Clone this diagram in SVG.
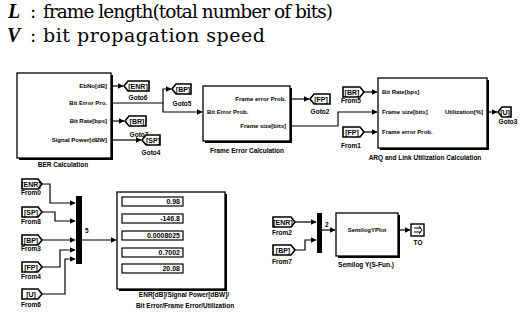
<svg xmlns="http://www.w3.org/2000/svg" width="521" height="325" viewBox="0 0 521 325">
<defs>
<marker id="ah" markerWidth="6" markerHeight="6" refX="5.5" refY="3" orient="auto" markerUnits="userSpaceOnUse">
<path d="M0,0 L6,3 L0,6 Z" fill="#000"/>
</marker>
</defs>
<style>
.top{font-family:"DejaVu Serif","Liberation Serif",serif;font-size:18.5px;fill:#000}
.lbl{font-family:"Liberation Sans",Arial,sans-serif;font-size:6px;font-weight:bold;fill:#000}
.cap{font-family:"Liberation Sans",Arial,sans-serif;font-size:6.5px;font-weight:bold;fill:#000}
.tag{font-family:"Liberation Sans",Arial,sans-serif;font-size:7px;font-weight:bold;fill:#000}
.blk{fill:#fff;stroke:#000;stroke-width:1.3}
.sh{fill:#000}
.tg{fill:#fff;stroke:#000;stroke-width:1.6}
.w{fill:none;stroke:#000;stroke-width:1.2}
.fld{fill:#fff;stroke:#000;stroke-width:1.2}
.val{font-family:"Liberation Sans",Arial,sans-serif;font-size:7px;font-weight:bold;fill:#000;text-anchor:end}
</style>
<rect width="521" height="325" fill="#fff"/>

<text class="top" x="8" y="18"><tspan font-family="Liberation Serif" font-size="20" font-style="italic" font-weight="bold">L</tspan><tspan x="30">:</tspan><tspan x="43" textLength="290" lengthAdjust="spacing">frame length(total number of bits)</tspan></text>
<text class="top" x="7" y="42"><tspan font-family="Liberation Serif" font-size="20" font-style="italic" font-weight="bold">V</tspan><tspan x="30">:</tspan><tspan x="43" font-size="19" textLength="222" lengthAdjust="spacing">bit propagation speed</tspan></text>

<g id="ber">
<rect class="sh" x="19" y="75" width="94" height="85"/>
<rect class="blk" x="17" y="73" width="94" height="85"/>
<text class="lbl" x="107" y="88" text-anchor="end">EbNo[dB]</text>
<text class="lbl" x="107" y="105" text-anchor="end">Bit Error Pro.</text>
<text class="lbl" x="107" y="123" text-anchor="end">Bit Rate[bps]</text>
<text class="lbl" x="107" y="142" text-anchor="end">Signal Power[dBW]</text>
<text class="cap" x="63" y="167" text-anchor="middle">BER Calculation</text>
</g>

<g id="goto6">
<path class="tg" d="M124,86 L128,81 L149,81 L149,91 L128,91 Z"/>
<text class="tag" x="138" y="88.5" text-anchor="middle">[ENR]</text>
<text class="cap" x="138" y="100" text-anchor="middle">Goto6</text>
</g>
<g id="goto5">
<path class="tg" d="M172,89 L176,84 L191,84 L191,94 L176,94 Z"/>
<text class="tag" x="183" y="91.5" text-anchor="middle">[BP]</text>
<text class="cap" x="182" y="106" text-anchor="middle">Goto5</text>
</g>
<g id="goto7">
<path class="tg" d="M125,121 L129,116 L146,116 L146,126 L129,126 Z"/>
<text class="tag" x="137" y="123.5" text-anchor="middle">[BR]</text>
<text class="cap" x="139" y="137" text-anchor="middle">Goto7</text>
</g>
<g id="goto4">
<path class="tg" d="M142,140 L146,135 L160,135 L160,145 L146,145 Z"/>
<text class="tag" x="153" y="142.5" text-anchor="middle">[SP]</text>
<text class="cap" x="151" y="155" text-anchor="middle">Goto4</text>
</g>

<g id="fec">
<rect class="sh" x="205" y="88" width="87" height="55"/>
<rect class="blk" x="203" y="86" width="87" height="55"/>
<text class="lbl" x="286" y="101" text-anchor="end">Frame error Prob.</text>
<text class="lbl" x="207" y="114">Bit Error Prob.</text>
<text class="lbl" x="286" y="128" text-anchor="end">Frame size[bits]</text>
<text class="cap" x="247" y="153" text-anchor="middle">Frame Error Calculation</text>
</g>
<g id="goto2">
<path class="tg" d="M310,99 L314,94 L330,94 L330,104 L314,104 Z"/>
<text class="tag" x="321" y="101.5" text-anchor="middle">[FP]</text>
<text class="cap" x="320" y="114" text-anchor="middle">Goto2</text>
</g>

<g id="arq">
<rect class="sh" x="380" y="80" width="109" height="70"/>
<rect class="blk" x="378" y="78" width="109" height="70"/>
<text class="lbl" x="382" y="94">Bit Rate[bps]</text>
<text class="lbl" x="382" y="114">Frame size[bits]</text>
<text class="lbl" x="483" y="114" text-anchor="end">Utilization[%]</text>
<text class="lbl" x="382" y="134">Frame error Prob.</text>
<text class="cap" x="425" y="160" text-anchor="middle">ARQ and Link Utilization Calculation</text>
</g>
<g id="from5">
<path class="tg" d="M343,87 L360,87 L364,92 L360,97 L343,97 Z"/>
<text class="tag" x="352" y="94.5" text-anchor="middle">[BR]</text>
<text class="cap" x="351" y="103" text-anchor="middle">From5</text>
</g>
<g id="from1">
<path class="tg" d="M343,127 L360,127 L364,132 L360,137 L343,137 Z"/>
<text class="tag" x="352" y="134.5" text-anchor="middle">[FP]</text>
<text class="cap" x="351" y="148" text-anchor="middle">From1</text>
</g>
<g id="goto3">
<path class="tg" d="M498,112 L502,107 L511,107 L511,117 L502,117 Z"/>
<text class="tag" x="505" y="114.5" text-anchor="middle">[U]</text>
<text class="cap" x="508" y="124" text-anchor="middle">Goto3</text>
</g>

<g id="from0">
<path class="tg" d="M22,179 L38,179 L42,184 L38,189 L22,189 Z"/>
<text class="tag" x="31" y="186.5" text-anchor="middle">[ENR]</text>
<text class="cap" x="31" y="195" text-anchor="middle">From0</text>
</g>
<g id="from8">
<path class="tg" d="M22,207 L38,207 L42,212 L38,217 L22,217 Z"/>
<text class="tag" x="31" y="214.5" text-anchor="middle">[SP]</text>
<text class="cap" x="31" y="224" text-anchor="middle">From8</text>
</g>
<g id="from3">
<path class="tg" d="M22,235 L38,235 L42,240 L38,245 L22,245 Z"/>
<text class="tag" x="31" y="242.5" text-anchor="middle">[BP]</text>
<text class="cap" x="31" y="251" text-anchor="middle">From3</text>
</g>
<g id="from4">
<path class="tg" d="M22,262 L38,262 L42,267 L38,272 L22,272 Z"/>
<text class="tag" x="31" y="269.5" text-anchor="middle">[FP]</text>
<text class="cap" x="31" y="279" text-anchor="middle">From4</text>
</g>
<g id="from6">
<path class="tg" d="M22,289 L38,289 L42,294 L38,299 L22,299 Z"/>
<text class="tag" x="31" y="296.5" text-anchor="middle">[U]</text>
<text class="cap" x="31" y="307" text-anchor="middle">From6</text>
</g>
<g id="mux1">
<rect x="76" y="196" width="6" height="68" fill="#000"/>
<text class="cap" x="85" y="233">5</text>
</g>
<g id="display">
<rect class="sh" x="119" y="194" width="108" height="97"/>
<rect class="blk" x="117" y="192" width="108" height="97"/>
<rect class="fld" x="122" y="197" width="61" height="9"/>
<text class="val" x="180" y="204">0.98</text>
<rect class="fld" x="122" y="214" width="61" height="9"/>
<text class="val" x="180" y="221">-146.8</text>
<rect class="fld" x="122" y="231" width="61" height="9"/>
<text class="val" x="180" y="238">0.0008025</text>
<rect class="fld" x="122" y="248" width="61" height="9"/>
<text class="val" x="180" y="255">0.7002</text>
<rect class="fld" x="122" y="264" width="61" height="9"/>
<text class="val" x="180" y="271">20.08</text>
<text class="cap" x="184" y="297" text-anchor="middle">ENR[dB]/Signal Power[dBW]/</text>
<text class="cap" x="185" y="308" text-anchor="middle">Bit Error/Frame Error/Utilization</text>
</g>

<g id="from2">
<path class="tg" d="M273,217 L291,217 L295,222 L291,227 L273,227 Z"/>
<text class="tag" x="283" y="224.5" text-anchor="middle">[ENR]</text>
<text class="cap" x="282" y="235" text-anchor="middle">From2</text>
</g>
<g id="from7">
<path class="tg" d="M273,245 L291,245 L295,250 L291,255 L273,255 Z"/>
<text class="tag" x="283" y="252.5" text-anchor="middle">[BP]</text>
<text class="cap" x="282" y="264" text-anchor="middle">From7</text>
</g>
<g id="mux2">
<rect x="317" y="213" width="5" height="40" fill="#000"/>
<text class="cap" x="325" y="227">2</text>
</g>
<g id="semilog">
<rect class="sh" x="338" y="215" width="62" height="43"/>
<rect class="blk" x="336" y="213" width="62" height="43"/>
<text class="lbl" x="367" y="232" text-anchor="middle">SemilogYPlot</text>
<text class="cap" x="366" y="267" text-anchor="middle">Semilog Y(S-Fun.)</text>
</g>
<g id="to">
<rect x="411" y="224" width="13" height="12" fill="#fff" stroke="#000" stroke-width="1.4"/>
<path d="M414,228 H421 M414,232 H421 M419,226 L422,230 L419,234" fill="none" stroke="#000" stroke-width="1"/>
<text class="cap" x="418" y="245" text-anchor="middle">TO</text>
</g>

<g id="connectors">
<path class="w" d="M111,86 H123" marker-end="url(#ah)"/>
<path class="w" d="M111,103 H163 V89 H171" marker-end="url(#ah)"/>
<path class="w" d="M163,103 V112 H202" marker-end="url(#ah)"/>
<path class="w" d="M111,121 H124" marker-end="url(#ah)"/>
<path class="w" d="M111,140 H141" marker-end="url(#ah)"/>
<path class="w" d="M290,99 H309" marker-end="url(#ah)"/>
<path class="w" d="M290,126 H338 V112 H377" marker-end="url(#ah)"/>
<path class="w" d="M364,92 H377" marker-end="url(#ah)"/>
<path class="w" d="M364,132 H377" marker-end="url(#ah)"/>
<path class="w" d="M487,112 H497" marker-end="url(#ah)"/>
<path class="w" d="M42,184 H50 V203 H75" marker-end="url(#ah)"/>
<path class="w" d="M42,212 H55 V221 H75" marker-end="url(#ah)"/>
<path class="w" d="M42,240 H75" marker-end="url(#ah)"/>
<path class="w" d="M42,267 H60 V250 H75" marker-end="url(#ah)"/>
<path class="w" d="M42,294 H65 V259 H75" marker-end="url(#ah)"/>
<path class="w" d="M82,240 H116" marker-end="url(#ah)"/>
<path class="w" d="M295,222 H316" marker-end="url(#ah)"/>
<path class="w" d="M295,250 H305 V240 H316" marker-end="url(#ah)"/>
<path class="w" d="M322,230 H335" marker-end="url(#ah)"/>
<path class="w" d="M398,230 H410" marker-end="url(#ah)"/>
</g>
</svg>
